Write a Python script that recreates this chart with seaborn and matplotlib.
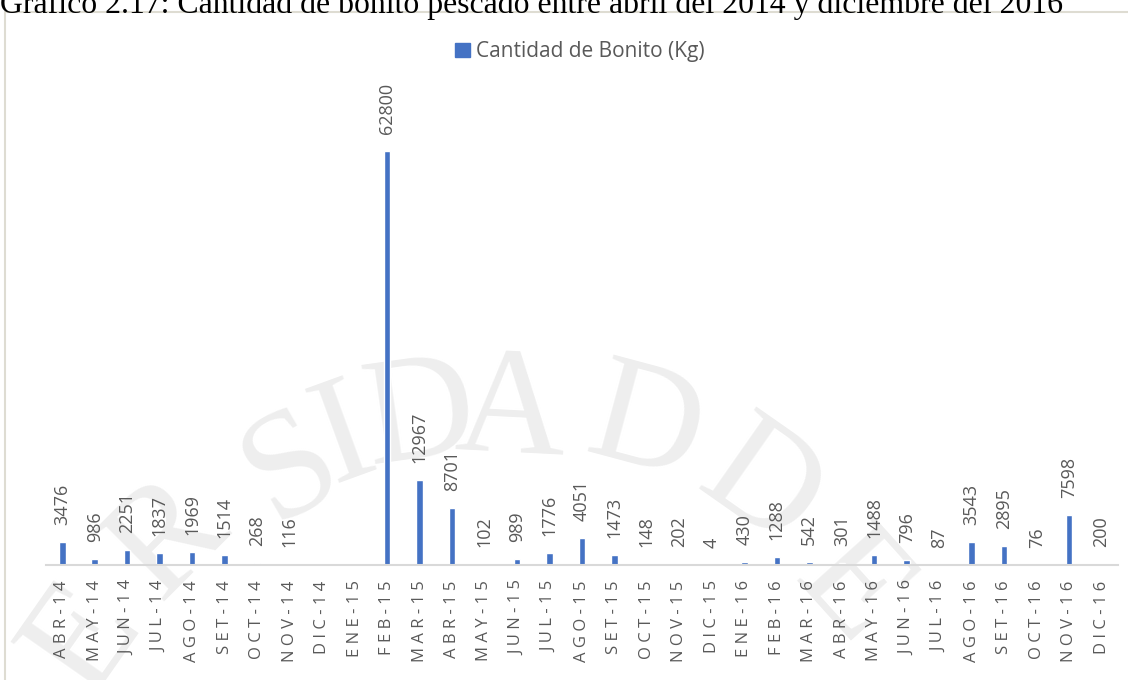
import matplotlib
matplotlib.use('Agg')
import matplotlib.pyplot as plt
import seaborn as sns
import pandas as pd
from matplotlib.patches import Patch, Rectangle

# Datos
meses = ['ABR-14', 'MAY-14', 'JUN-14', 'JUL-14', 'AGO-14', 'SET-14', 'OCT-14', 'NOV-14',
         'DIC-14', 'ENE-15', 'FEB-15', 'MAR-15', 'ABR-15', 'MAY-15', 'JUN-15', 'JUL-15',
         'AGO-15', 'SET-15', 'OCT-15', 'NOV-15', 'DIC-15', 'ENE-16', 'FEB-16', 'MAR-16',
         'ABR-16', 'MAY-16', 'JUN-16', 'JUL-16', 'AGO-16', 'SET-16', 'OCT-16', 'NOV-16',
         'DIC-16']
cantidad = [3476, 986, 2251, 1837, 1969, 1514, 268, 116,
            None, None, 62800, 12967, 8701, 102, 989, 1776,
            4051, 1473, 148, 202, 4, 430, 1288, 542,
            301, 1488, 796, 87, 3543, 2895, 76, 7598,
            200]
serie = 'Cantidad de Bonito (Kg)'
titulo = 'Gráfico 2.17: Cantidad de bonito pescado entre abril del 2014 y diciembre del 2016'

df = pd.DataFrame({'mes': meses, 'kg': cantidad})
df['kg_plot'] = df['kg'].fillna(0)

sns.set_style('white')
plt.rcParams['font.family'] = ['Open Sans', 'DejaVu Sans']

azul = '#4472C4'
gris = '#595959'

fig = plt.figure(figsize=(11.28, 6.8), dpi=100)

# Marca de agua (letras grandes en arco, gris muy claro, detrás de todo)
marca = [('E', 85, 640, 55), ('R', 170, 540, 45), ('S', 293, 470, 30), ('I', 345, 440, 20),
         ('D', 420, 420, 8), ('A', 510, 415, -3), ('D', 645, 430, -15),
         ('D', 760, 490, -35), ('E', 850, 590, -48)]
for letra, px, py, rot in marca:
    fig.text(px / 1128, 1 - py / 680, letra, family='Liberation Serif', fontsize=110,
             color='#eeeeee', ha='center', va='center', rotation=rot, zorder=-5)

ax = fig.add_axes([0.0408, 0.169, 0.9502, 0.678])
ax.set_zorder(1)
ax.patch.set_alpha(0)

sns.barplot(data=df, x='mes', y='kg_plot', order=meses, color=azul, width=0.2,
            saturation=1, ax=ax)

ax.set_ylim(0, 70000)
ax.set_xlim(-0.5, len(meses) - 0.5)

# Etiquetas de datos
for i, v in enumerate(cantidad):
    if v is None:
        continue
    ax.annotate(str(v), (i, v), xytext=(0, 17), textcoords='offset pixels',
                rotation=90, ha='center', va='bottom', color=gris, fontsize=13,
                annotation_clip=False)

# Ejes al estilo Excel
for s in ['top', 'right', 'left']:
    ax.spines[s].set_visible(False)
ax.spines['bottom'].set_color('#d9d9d9')
ax.spines['bottom'].set_linewidth(1.5)
ax.set_yticks([])
ax.set_xlabel('')
ax.set_ylabel('')
ax.set_xticks(range(len(meses)))
ax.set_xticklabels([' '.join(m) for m in meses], rotation=90, color=gris, fontsize=12)
ax.tick_params(axis='x', length=0, pad=11)

# Leyenda
fig.legend(handles=[Patch(color=azul, label=serie)], loc='center',
           bbox_to_anchor=(0.514, 0.924), frameon=False, fontsize=15,
           handlelength=0.7, handleheight=0.7, handletextpad=0.3, labelcolor=gris)

# Marco del gráfico
fig.patches.append(Rectangle((5 / 1128, -0.01), 1.1, 1 - 12 / 680 + 0.01,
                             transform=fig.transFigure, fill=False,
                             edgecolor='#dedcd2', linewidth=1.5))

# Título (cortado en la parte superior, como en el original)
fig.text(0.0, 1 - 13 / 680, titulo, family='Liberation Serif', fontsize=22.9,
         color='black', ha='left', va='baseline')

plt.savefig('out.png', dpi=100)
